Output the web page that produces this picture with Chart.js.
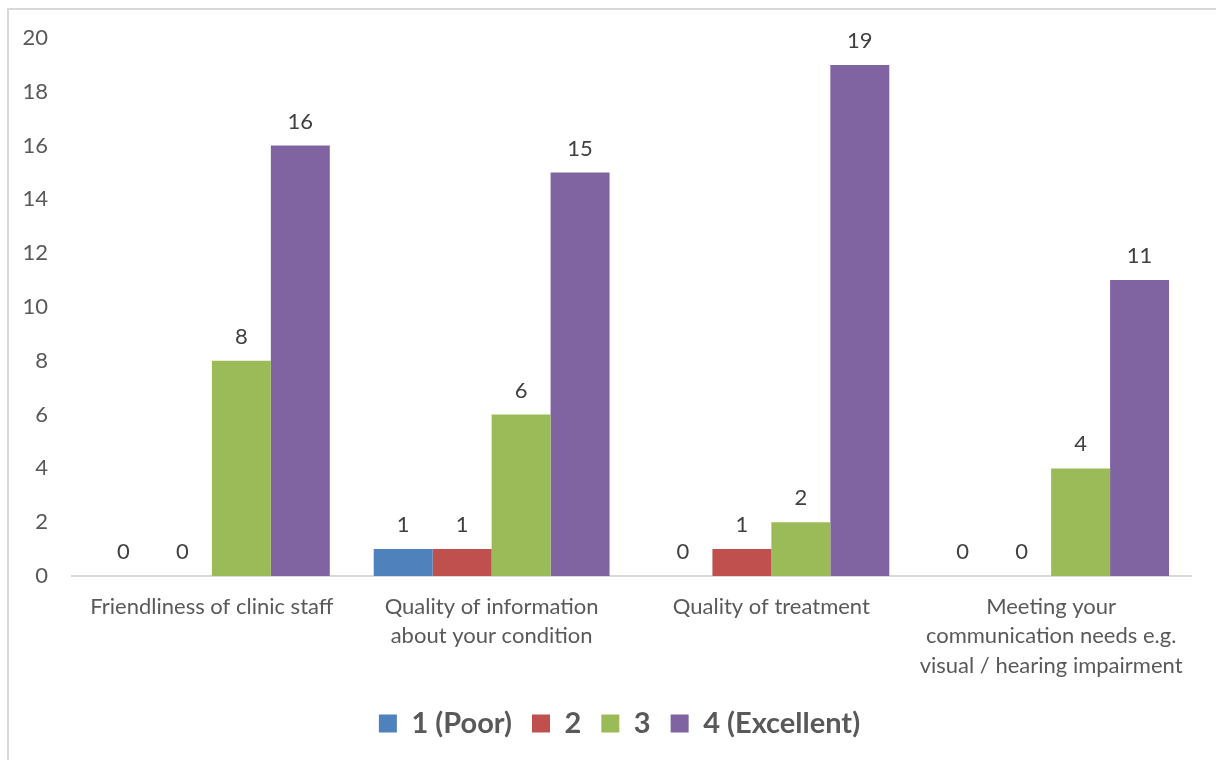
<!DOCTYPE html>
<html>
<head>
<meta charset="utf-8">
<script src="https://cdn.jsdelivr.net/npm/chart.js@4"></script>
<style>
    html, body { margin: 0; padding: 0; background: #fff; overflow: hidden; }
    body { width: 1216px; height: 760px; position: relative; }
    #frame {
        position: absolute; left: 7px; top: 8px;
        width: 1240px; height: 800px;
        border: 2px solid #d9d9d9; box-sizing: border-box;
    }
    #wrap { position: absolute; left: 0; top: 0; width: 1216px; height: 800px; }
</style>
</head>
<body>
<div id="frame"></div>
<div id="wrap"><canvas id="ratingChart" width="1216" height="800"></canvas></div>
<script>
// ── Datos ────────────────────────────────────────────────────────
const categories = [
    'Friendliness of clinic staff',
    ['Quality of information', 'about your condition'],
    'Quality of treatment',
    ['Meeting your', 'communication needs e.g.', 'visual / hearing impairment']
];
const seriesLabels = ['1 (Poor)', '2', '3', '4 (Excellent)'];
const poorValues = [0, 1, 0, 0];
const twoValues = [0, 1, 1, 0];
const threeValues = [8, 6, 2, 4];
const excellentValues = [16, 15, 19, 11];
const yTicks = { min: 0, max: 20, step: 2 };

const _colors = ['#4f81bd', '#c0504d', '#9bbb59', '#8064a2'];
const _font = 'Lato, "Open Sans", sans-serif';

// Etiquetas de valor encima de cada barra
const barValueLabels = {
    id: 'barValueLabels',
    afterDatasetsDraw(chart) {
        const ctx = chart.ctx;
        ctx.save();
        ctx.font = '22px ' + _font;
        ctx.fillStyle = '#404040';
        ctx.textAlign = 'center';
        ctx.textBaseline = 'middle';
        chart.data.datasets.forEach((ds, i) => {
            const meta = chart.getDatasetMeta(i);
            meta.data.forEach((bar, j) => {
                ctx.fillText(String(ds.data[j]), bar.x, bar.y - 24);
            });
        });
        ctx.restore();
    }
};

// Desplaza el inicio de la leyenda para centrarla bajo todo el gráfico
const legendShift = {
    id: 'legendShift',
    afterLayout(chart) {
        if (chart.legend) chart.legend.left = 48;
    }
};

const seriesData = [poorValues, twoValues, threeValues, excellentValues];

new Chart(document.getElementById('ratingChart').getContext('2d'), {
    type: 'bar',
    data: {
        labels: categories,
        datasets: seriesLabels.map((label, i) => ({
            label: label,
            data: seriesData[i],
            backgroundColor: _colors[i],
            borderWidth: 0,
            categoryPercentage: 0.843,
            barPercentage: 1
        }))
    },
    options: {
        responsive: false,
        animation: false,
        layout: { padding: { left: 0, right: 25, top: 38, bottom: 52 } },
        scales: {
            x: {
                grid: { display: false, drawTicks: false },
                border: { display: true, color: '#d9d9d9', width: 2 },
                ticks: {
                    color: '#595959',
                    padding: 16,
                    maxRotation: 0,
                    autoSkip: false,
                    font: { family: _font, size: 22, lineHeight: 1.34 }
                },
                afterFit(scale) { scale.height = 113; }
            },
            y: {
                min: yTicks.min,
                max: yTicks.max,
                grid: { display: false, drawTicks: false },
                border: { display: false },
                ticks: {
                    stepSize: yTicks.step,
                    color: '#595959',
                    padding: 24,
                    font: { family: _font, size: 22 }
                },
                afterFit(scale) { scale.width = 72; }
            }
        },
        plugins: {
            legend: {
                display: true,
                position: 'bottom',
                labels: {
                    color: '#595959',
                    boxWidth: 18,
                    boxHeight: 18,
                    padding: 20,
                    font: { family: _font, size: 29, weight: 'bold' }
                }
            },
            tooltip: { enabled: false }
        }
    },
    plugins: [barValueLabels, legendShift]
});
</script>
</body>
</html>
